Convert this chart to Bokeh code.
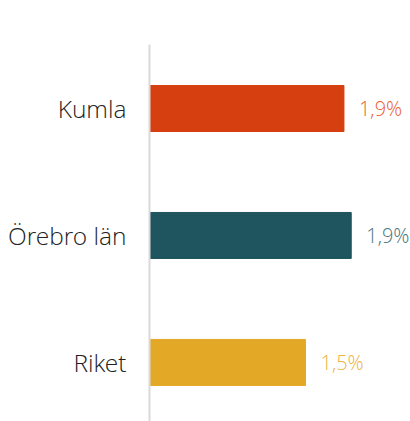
from bokeh.plotting import figure
from bokeh.models import Range1d, ColumnDataSource, FixedTicker
from bokeh.core.properties import value
from bokeh.embed import file_html
from bokeh.resources import INLINE

categories = ["Kumla", "Örebro län", "Riket"]
values = [1.87, 1.94, 1.50]
value_labels = ["1,9%", "1,9%", "1,5%"]
bar_colors = ["#D63F0F", "#1F555E", "#E3A826"]
label_colors = ["#EC5F30", "#4A767D", "#EDB444"]

n = len(categories)
ypos = [n - 1 - i + 0.5 for i in range(n)]

FONT = "'Open Sans Light', 'Lato Light', 'Open Sans'"

src = ColumnDataSource(dict(y=ypos, v=values, lab=value_labels,
                            bc=bar_colors, lc=label_colors))

p = figure(width=410, height=421, output_backend="svg", toolbar_location=None,
           x_range=Range1d(0, 2.51), y_range=Range1d(0.035, 3.004),
           min_border_left=149, min_border_top=44, min_border_bottom=0,
           min_border_right=0)

p.hbar(y="y", left=0, right="v", height=46 / 127, color="bc", source=src)
p.text(x="v", y="y", text="lab", text_color="lc", source=src,
       x_offset=15, text_baseline="middle", text_align="left",
       text_font=value(FONT), text_font_size="20px")

p.xaxis.visible = False
p.xgrid.visible = False
p.ygrid.visible = False
p.outline_line_color = None

ya = p.yaxis[0]
ya.ticker = FixedTicker(ticks=ypos)
ya.major_label_overrides = {y: c for y, c in zip(ypos, categories)}
ya.major_tick_line_color = None
ya.minor_tick_line_color = None
ya.axis_line_color = "#D9D9D9"
ya.axis_line_width = 2
ya.major_label_standoff = 17
ya.major_label_text_font = FONT
ya.major_label_text_font_size = "24.5px"
ya.major_label_text_color = "#222222"

open("out.html", "w").write(file_html(p, INLINE))
